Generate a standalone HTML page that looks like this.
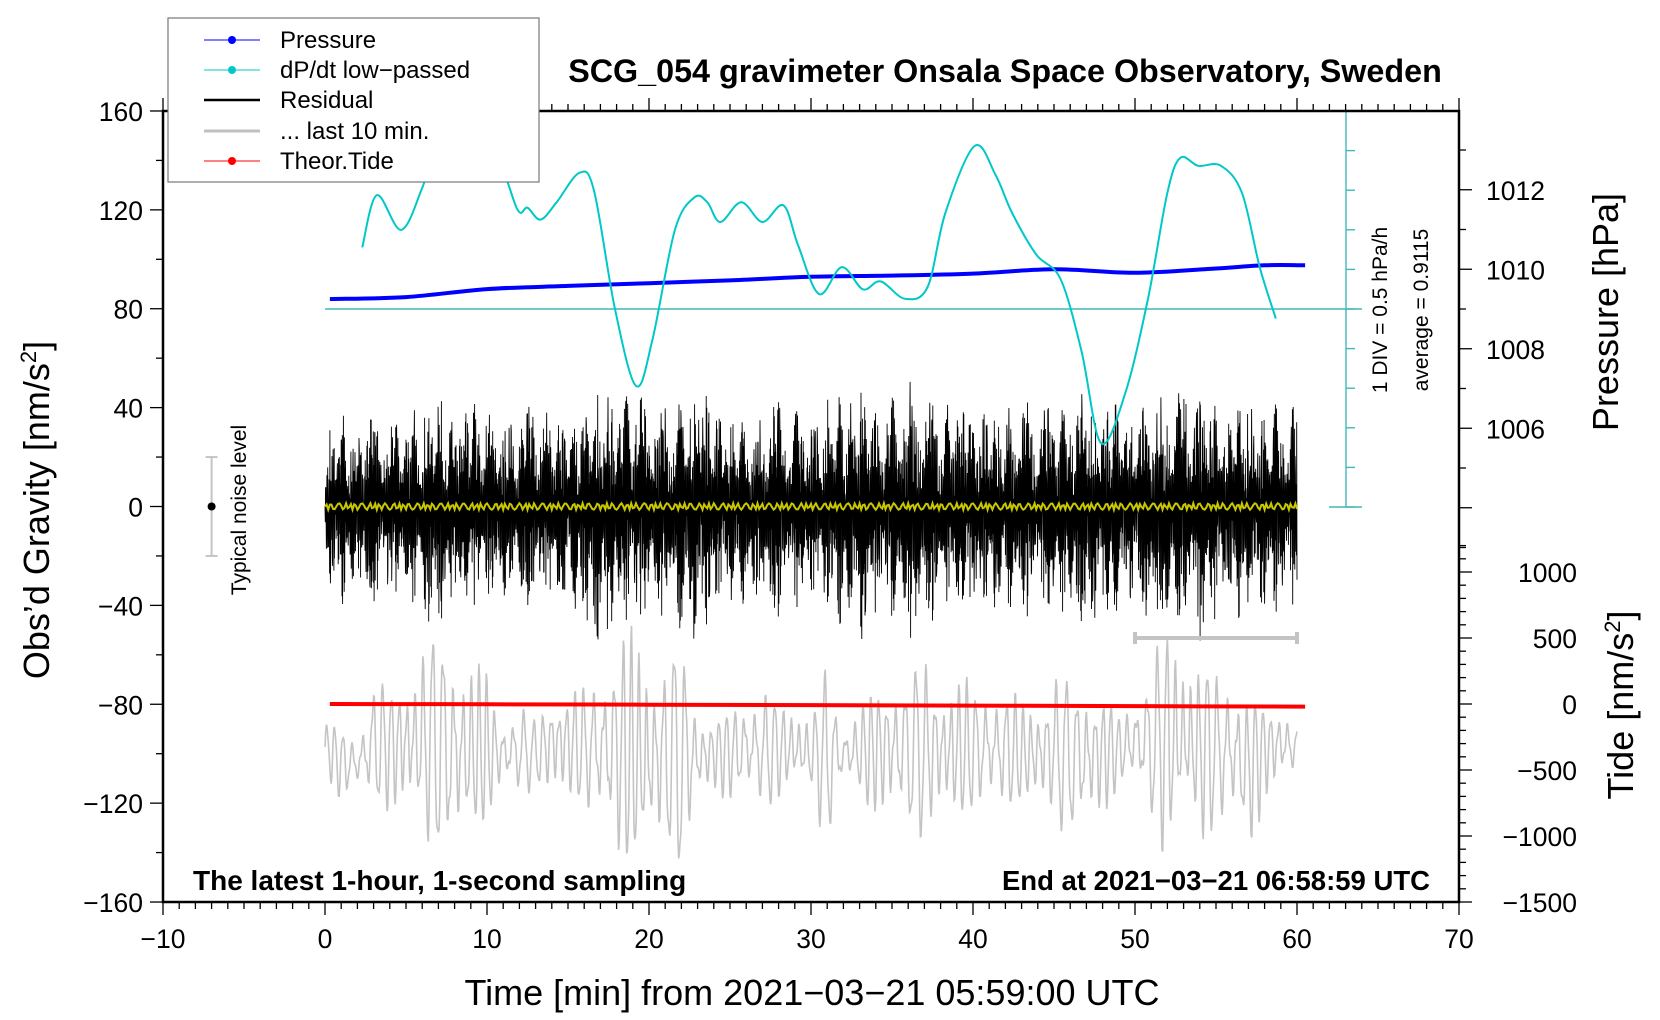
<!DOCTYPE html>
<html><head><meta charset="utf-8"><style>
html,body{margin:0;padding:0;background:#fff;}
svg{display:block;font-family:"Liberation Sans",sans-serif;}
</style></head><body>
<svg id="chart" width="1660" height="1020" viewBox="0 0 1660 1020" xmlns="http://www.w3.org/2000/svg">
<rect x="0" y="0" width="1660" height="1020" fill="#fff"/>
<g id="marks"></g>
<g id="axes"></g>
<text x="1005" y="82" font-size="32.3" font-weight="bold" text-anchor="middle">SCG_054 gravimeter Onsala Space Observatory, Sweden</text>
<text x="193" y="890" font-size="28" font-weight="bold">The latest 1-hour, 1-second sampling</text>
<text x="1430" y="890" font-size="27.5" font-weight="bold" text-anchor="end">End at 2021−03−21 06:58:59 UTC</text>
<text x="812" y="1005" font-size="36" text-anchor="middle">Time [min] from 2021−03−21 05:59:00 UTC</text>
<text transform="translate(49,510) rotate(-90)" font-size="36" text-anchor="middle">Obs’d Gravity [nm/s<tspan font-size="22" dy="-13">2</tspan><tspan dy="13">]</tspan></text>
<text transform="translate(1618,312) rotate(-90)" font-size="36" text-anchor="middle">Pressure [hPa]</text>
<text transform="translate(1633,705) rotate(-90)" font-size="36" text-anchor="middle">Tide [nm/s<tspan font-size="22" dy="-13">2</tspan><tspan dy="13">]</tspan></text>
<text transform="translate(1387,310) rotate(-90)" font-size="21" text-anchor="middle">1 DIV = 0.5 hPa/h</text>
<text transform="translate(1428,310) rotate(-90)" font-size="21" text-anchor="middle">average = 0.9115</text>
<text transform="translate(246,510) rotate(-90)" font-size="21" text-anchor="middle">Typical noise level</text>
<g>
<rect x="168" y="18" width="371" height="164" fill="#fff" stroke="#777" stroke-width="1.2"/>
<g><line x1="204" y1="40" x2="260" y2="40" stroke="#0000ff" stroke-width="1"/><circle cx="232" cy="40" r="4" fill="#0000ff"/><text x="280" y="48" font-size="24">Pressure</text></g>
<g><line x1="204" y1="70" x2="260" y2="70" stroke="#00c8c8" stroke-width="1"/><circle cx="232" cy="70" r="4" fill="#00c8c8"/><text x="280" y="78" font-size="24">dP/dt low−passed</text></g>
<g><line x1="204" y1="100" x2="260" y2="100" stroke="#000" stroke-width="2.5"/><text x="280" y="108" font-size="24">Residual</text></g>
<g><line x1="204" y1="131" x2="260" y2="131" stroke="#c0c0c0" stroke-width="3"/><text x="280" y="139" font-size="24">... last 10 min.</text></g>
<g><line x1="204" y1="161" x2="260" y2="161" stroke="#ff0000" stroke-width="1"/><circle cx="232" cy="161" r="4" fill="#ff0000"/><text x="280" y="169" font-size="24">Theor.Tide</text></g>
</g>
</svg>
<script>
// ---- data ----
const dpdtTimes=[2.3,3.2,4.7,6.0,7.0,8.5,10.7,11.9,12.5,13.3,14.3,15.7,16.6,17.9,19.2,20.2,21.6,22.8,23.6,24.4,25.7,27.0,28.3,29.2,30.5,31.9,33.2,34.3,35.8,37.2,38.3,40.1,41.4,42.4,43.9,45.4,46.7,47.9,49.4,50.8,52.0,52.8,53.9,55.3,56.6,57.7,58.7];
const dpdtValues=[1.69,2.35,1.91,2.44,3.04,3.35,2.79,2.16,2.19,2.04,2.26,2.63,2.41,0.91,-0.06,0.51,1.91,2.32,2.26,2.01,2.26,2.01,2.22,1.72,1.10,1.44,1.16,1.26,1.04,1.19,2.13,2.97,2.60,2.13,1.60,1.29,0.38,-0.78,-0.15,1.04,2.38,2.82,2.72,2.72,2.38,1.44,0.79];
const dpdtAverage=0.9115;
const pressureTimes=[0.3,5,10,15,20,25,30,35,40,45,50,55,58,60.5];
const pressureValues=[1009.25,1009.30,1009.50,1009.58,1009.65,1009.72,1009.81,1009.84,1009.89,1010.00,1009.91,1010.02,1010.10,1010.10];
const residualMax=[30,38,35,40,33,42,40,45,40,48,38,36,42,45,35,40,42,48,45,52,40,46,43,55,40,42,35,38,45,40,36,44,46,52,40,45,52,48,42,46,44,40,42,45,40,44,46,48,42,45,40,44,46,52,48,42,44,46,40,45,42];
const residualMin=[-30,-40,-38,-44,-36,-42,-45,-52,-46,-44,-40,-38,-42,-46,-40,-44,-48,-62,-48,-52,-44,-48,-50,-66,-42,-44,-40,-46,-48,-42,-38,-44,-50,-60,-44,-48,-62,-50,-44,-48,-46,-42,-44,-48,-42,-46,-50,-52,-44,-48,-42,-52,-58,-46,-56,-46,-48,-44,-42,-48,-40];
const lastTenMax=[-100,-200,-250,200,100,300,450,500,550,300,200,-100,0,-150,200,100,100,350,450,500,450,350,450,0,-100,-50,100,100,0,50,-100,250,-150,0,100,300,250,300,250,200,100,200,100,0,100,200,150,250,100,-100,100,300,550,500,350,200,300,100,0,50,-150];
const lastTenMin=[-550,-700,-650,-800,-750,-900,-1000,-1100,-1300,-1000,-900,-650,-700,-600,-800,-700,-750,-1000,-1150,-1250,-1300,-1100,-1250,-800,-650,-700,-750,-800,-700,-700,-650,-1050,-600,-700,-800,-950,-950,-1000,-950,-900,-800,-850,-800,-750,-850,-900,-950,-1050,-850,-600,-650,-900,-1100,-1000,-1050,-900,-1000,-1100,-700,-650,-500];
const tideTimes=[0.3,10,20,30,40,50,60.5];
const tideValues=[0,-2,-5,-8,-12,-16,-20];
const xTicks=[-10,0,10,20,30,40,50,60,70];
const yTicks=[-160,-120,-80,-40,0,40,80,120,160];
const pTicks=[1006,1008,1010,1012];
const tideTicks=[-1500,-1000,-500,0,500,1000];

// ---- scales ----
const X=t=>325+16.2*t;
const Y=g=>506.5-2.472*g;
const P=p=>309-39.75*(p-1009);
const D=v=>309-79.2*(v-dpdtAverage);
const T=v=>704-0.132*v;
const NS='http://www.w3.org/2000/svg';
const marks=document.getElementById('marks'), axes=document.getElementById('axes');
function mk(tag,attrs,parent){const e=document.createElementNS(NS,tag);for(const k in attrs)e.setAttribute(k,attrs[k]);parent.appendChild(e);return e;}

// grey last-10-min oscillation within envelope
(function(){
  let d='';const n=60*24;
  for(let i=0;i<=n;i++){
    const t=i/24, k=Math.min(59,Math.floor(t)), f=t-k;
    const hi=lastTenMax[k]*(1-f)+lastTenMax[k+1]*f, lo=lastTenMin[k]*(1-f)+lastTenMin[k+1]*f;
    const mid=(hi+lo)/2, amp=(hi-lo)/2;
    const s=Math.sin(2*Math.PI*t/0.55+Math.sin(t*1.3)*1.5)*(0.7+0.3*Math.sin(t*2.1))+0.15*Math.sin(2*Math.PI*t/0.23);
    d+=(i?'L':'M')+X(t).toFixed(1)+' '+T(mid+amp*s).toFixed(1);
  }
  const p=mk('path',{d:d,fill:'none',stroke:'#c4c4c4','stroke-width':1.6},marks);
  
  
})();
// residual dense noise
(function(){
  let d='';const n=3600;
  for(let i=0;i<=n;i++){
    const t=i/60, k=Math.min(59,Math.floor(t)), f=t-k;
    const hi=residualMax[k]*(1-f)+residualMax[k+1]*f, lo=residualMin[k]*(1-f)+residualMin[k+1]*f;
    const a=Math.abs(Math.sin(i*0.173+Math.sin(i*0.031)*3))*Math.abs(Math.sin(i*0.0571+1.3*Math.sin(i*0.013)));
    const s=Math.sin(i*2.399+Math.sin(i*0.77)*2.2)*(0.25+0.75*Math.pow(a,0.7));
    const v=s>0?s*hi:-s*lo;
    d+=(i?'L':'M')+X(t).toFixed(1)+' '+Y(v).toFixed(1);
  }
  const p=mk('path',{d:d,fill:'none',stroke:'#000','stroke-width':0.9},marks);
  
  
  let dy='';
  for(let i=0;i<=600;i++){const t=i/10;dy+=(i?'L':'M')+X(t).toFixed(1)+' '+Y(Math.sin(i*1.7+Math.sin(i*0.4)*2)*1.3).toFixed(1);}
  const py=mk('path',{d:dy,fill:'none',stroke:'#c8c800','stroke-width':2},marks);
  
  
})();
function smooth(xs,ys){
  let d='M'+xs[0]+' '+ys[0];
  for(let i=0;i<xs.length-1;i++){
    const x0=xs[Math.max(0,i-1)],y0=ys[Math.max(0,i-1)],x1=xs[i],y1=ys[i],x2=xs[i+1],y2=ys[i+1],x3=xs[Math.min(xs.length-1,i+2)],y3=ys[Math.min(xs.length-1,i+2)];
    d+=`C${(x1+(x2-x0)/6).toFixed(1)} ${(y1+(y2-y0)/6).toFixed(1)} ${(x2-(x3-x1)/6).toFixed(1)} ${(y2-(y3-y1)/6).toFixed(1)} ${x2.toFixed(1)} ${y2.toFixed(1)}`;
  }
  return d;
}
// tide
const tp=mk('path',{d:smooth(tideTimes.map(X),tideValues.map(T)),fill:'none',stroke:'#ff0000','stroke-width':4},marks);


// pressure
const pp=mk('path',{d:smooth(pressureTimes.map(X),pressureValues.map(P)),fill:'none',stroke:'#0000ff','stroke-width':4},marks);


// dpdt scale
const sc=mk('g',{stroke:'#40b8b8','stroke-width':1.4},marks);


mk('line',{x1:1346,y1:D(dpdtAverage+2.5),x2:1346,y2:D(dpdtAverage-2.5)},sc);
mk('line',{x1:1329,y1:D(dpdtAverage+2.5),x2:1362,y2:D(dpdtAverage+2.5)},sc);
mk('line',{x1:1329,y1:D(dpdtAverage-2.5),x2:1362,y2:D(dpdtAverage-2.5)},sc);
for(let k=-5;k<=5;k++){mk('line',{x1:1346,y1:D(dpdtAverage+k*0.5),x2:1355,y2:D(dpdtAverage+k*0.5)},sc);}
const avg=mk('line',{x1:X(0),y1:D(dpdtAverage),x2:1362,y2:D(dpdtAverage),stroke:'#40b8b8','stroke-width':1.4},marks);


const dp=mk('path',{d:smooth(dpdtTimes.map(X),dpdtValues.map(D)),fill:'none',stroke:'#00c8c8','stroke-width':2},marks);


// 10-min range bar & noise bar
const rb=mk('g',{stroke:'#c4c4c4','stroke-width':4},marks);


mk('line',{x1:X(50),y1:T(500),x2:X(60),y2:T(500)},rb);
mk('line',{x1:X(50),y1:T(500)-6,x2:X(50),y2:T(500)+6},rb);
mk('line',{x1:X(60),y1:T(500)-6,x2:X(60),y2:T(500)+6},rb);
const nb=mk('g',{stroke:'#c4c4c4','stroke-width':2},marks);


mk('line',{x1:X(-7),y1:Y(20),x2:X(-7),y2:Y(-20)},nb);
mk('line',{x1:X(-7)-6,y1:Y(20),x2:X(-7)+6,y2:Y(20)},nb);
mk('line',{x1:X(-7)-6,y1:Y(-20),x2:X(-7)+6,y2:Y(-20)},nb);
mk('circle',{cx:X(-7),cy:Y(0),r:4,fill:'#000',stroke:'none'},nb);

// ---- axes ----
const ax=mk('g',{stroke:'#000','stroke-width':2.5,fill:'none'},axes);


mk('rect',{x:163,y:111,width:1296,height:791},ax);
const tk=mk('g',{stroke:'#000','stroke-width':1.3},axes);


for(let t=-10;t<=70;t++){const L=t%10===0?13:7;mk('line',{x1:X(t),y1:902,x2:X(t),y2:902+L},tk);mk('line',{x1:X(t),y1:111,x2:X(t),y2:111-(t%10===0?13:7)},tk);}
for(let g=-160;g<=160;g+=20){const L=g%40===0?13:7;mk('line',{x1:163-L,y1:Y(g),x2:163,y2:Y(g)},tk);}
for(let p=1003;p<=1013;p++){const L=p%2===0?13:7;mk('line',{x1:1459,y1:P(p),x2:1459+L,y2:P(p)},tk);}
for(let v=-1500;v<=1200;v+=100){const L=v%500===0?13:7;mk('line',{x1:1459,y1:T(v),x2:1459+L,y2:T(v)},tk);}
const lab=mk('g',{'font-size':26.5,fill:'#000'},axes);


xTicks.forEach(t=>{const e=mk('text',{x:X(t),y:948,'text-anchor':'middle'},lab);e.textContent=String(t).replace('-','−');});
yTicks.forEach(g=>{const e=mk('text',{x:143,y:Y(g)+10,'text-anchor':'end'},lab);e.textContent=String(g).replace('-','−');});
pTicks.forEach(p=>{const e=mk('text',{x:1486,y:P(p)+10},lab);e.textContent=p;});
tideTicks.forEach(v=>{const e=mk('text',{x:1577,y:T(v)+10,'text-anchor':'end'},lab);e.textContent=String(v).replace('-','−');});
</script>
</body></html>
